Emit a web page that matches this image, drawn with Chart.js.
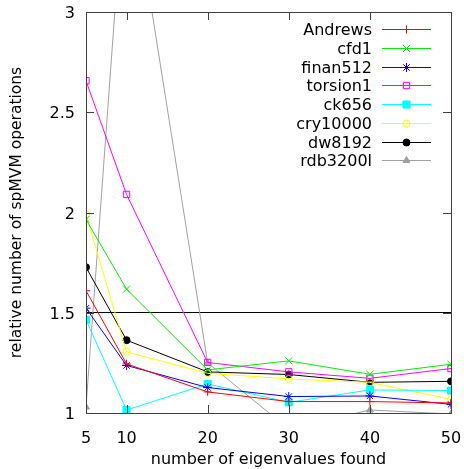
<!DOCTYPE html>
<html>
<head>
<meta charset="utf-8">
<script src="https://cdn.jsdelivr.net/npm/chart.js@4/dist/chart.umd.min.js"></script>
<style>
  html, body { margin: 0; padding: 0; background: #fff; }
  #wrap { width: 464px; height: 469px; }
</style>
</head>
<body>
<div id="wrap"><canvas id="chart" width="464" height="469"></canvas></div>
<script>
// valeurs
const eigenCounts = [5, 10, 20, 30, 40, 50];
const yTicks = [1, 1.5, 2, 2.5, 3];

const andrews  = [1.61, 1.245, 1.105, 1.057, 1.057, 1.05];
const cfd1     = [1.965, 1.618, 1.215, 1.26, 1.193, 1.243];
const finan512 = [1.523, 1.237, 1.127, 1.082, 1.085, 1.043];
const torsion1 = [2.657, 2.09, 1.252, 1.205, 1.173, 1.222];
const ck656    = [1.465, 1.015, 1.145, 1.053, 1.115, 1.112];
const cry10000 = [1.99, 1.305, 1.198, 1.17, 1.153, 1.068];
const dw8192   = [1.727, 1.363, 1.205, 1.192, 1.153, 1.158];
const rdb3200l = [1.03, 3.8, 1.25, 0.92, 1.015, 0.995];

const seriesNames = ['Andrews', 'cfd1', 'finan512', 'torsion1', 'ck656', 'cry10000', 'dw8192', 'rdb3200l'];
const seriesValues = [andrews, cfd1, finan512, torsion1, ck656, cry10000, dw8192, rdb3200l];

const FONT = 'DejaVu Sans';
const FONT_SIZE = 16;
Chart.defaults.font.family = FONT;
Chart.defaults.color = '#000';

// style gnuplot : couleur, symbole, remplissage
const styles = [
    { color: '#ff0000', point: 'cross',    radius: 4,   fill: false },
    { color: '#00ee00', point: 'crossRot', radius: 5,   fill: false },
    { color: '#0000ff', point: 'star',     radius: 4.5, fill: false },
    { color: '#ff00ff', point: 'rect',     radius: 4.5, fill: false },
    { color: '#00ffff', point: 'rect',     radius: 5,   fill: true },
    { color: '#ffff00', point: 'circle',   radius: 3.5, fill: false },
    { color: '#000000', point: 'circle',   radius: 3.5, fill: true },
    { color: '#a0a0a0', point: 'triangle', radius: 4,   fill: true }
];

const datasets = seriesNames.map((name, i) => ({
    label: name,
    data: eigenCounts.map((x, j) => ({ x: x, y: seriesValues[i][j] })),
    borderColor: styles[i].color,
    backgroundColor: styles[i].fill ? styles[i].color : 'rgba(0,0,0,0)',
    pointBackgroundColor: styles[i].fill ? styles[i].color : 'rgba(0,0,0,0)',
    pointBorderColor: styles[i].color,
    pointStyle: styles[i].point,
    pointRadius: styles[i].radius,
    pointBorderWidth: 1,
    borderWidth: 1,
    tension: 0
}));

// cadre, graduations vers l'intérieur et légende façon gnuplot
const gnuplotFrame = {
    id: 'gnuplotFrame',
    afterDatasetsDraw(chart) {
        const { ctx, chartArea: a, scales } = chart;
        ctx.save();
        ctx.strokeStyle = '#404040';
        ctx.lineWidth = 1;
        ctx.beginPath();
        eigenCounts.forEach(v => {
            const px = Math.round(scales.x.getPixelForValue(v)) + 0.5;
            ctx.moveTo(px, a.bottom); ctx.lineTo(px, a.bottom - 8);
            ctx.moveTo(px, a.top); ctx.lineTo(px, a.top + 8);
        });
        yTicks.forEach(v => {
            const py = Math.round(scales.y.getPixelForValue(v)) + 0.5;
            ctx.moveTo(a.left, py); ctx.lineTo(a.left + 8, py);
            ctx.moveTo(a.right, py); ctx.lineTo(a.right - 8, py);
        });
        ctx.stroke();
        ctx.strokeRect(Math.round(a.left) + 0.5, Math.round(a.top) + 0.5,
                       Math.round(a.right - a.left), Math.round(a.bottom - a.top));

        // légende
        ctx.font = FONT_SIZE + 'px "' + FONT + '"';
        ctx.textAlign = 'right';
        ctx.textBaseline = 'middle';
        chart.data.datasets.forEach((ds, i) => {
            const y = Math.round(29.3 + i * 18.7) + 0.5;
            ctx.fillStyle = '#000';
            ctx.fillText(ds.label, 372, y + 1);
            ctx.strokeStyle = ds.borderColor;
            ctx.beginPath();
            ctx.moveTo(382, y); ctx.lineTo(431, y);
            ctx.stroke();
            ctx.fillStyle = ds.pointBackgroundColor;
            Chart.helpers.drawPoint(ctx, {
                pointStyle: ds.pointStyle,
                radius: ds.pointRadius,
                borderWidth: 1,
                rotation: 0
            }, 406.5, y);
        });
        ctx.restore();
    }
};

new Chart(document.getElementById('chart'), {
    type: 'line',
    data: { datasets: datasets },
    options: {
        responsive: false,
        animation: false,
        events: [],
        layout: { padding: { left: 0, top: 12, right: 13, bottom: 0 } },
        plugins: {
            legend: { display: false },
            tooltip: { enabled: false }
        },
        scales: {
            x: {
                type: 'linear',
                min: 5,
                max: 50,
                afterBuildTicks: (scale) => { scale.ticks = eigenCounts.map(v => ({ value: v })); },
                afterFit: (scale) => {
                    scale.height = 56;
                    scale.paddingLeft = 0;
                    scale.paddingRight = 0;
                },
                grid: { display: false, drawTicks: false },
                border: { display: false },
                ticks: { font: { size: FONT_SIZE }, padding: 16, maxRotation: 0, autoSkip: false },
                title: {
                    display: true,
                    text: 'number of eigenvalues found',
                    font: { size: FONT_SIZE },
                    padding: { top: 0, bottom: 0 }
                }
            },
            y: {
                type: 'linear',
                min: 1,
                max: 3,
                afterBuildTicks: (scale) => { scale.ticks = yTicks.map(v => ({ value: v })); },
                afterFit: (scale) => {
                    scale.width = 86;
                    scale.paddingTop = 0;
                    scale.paddingBottom = 0;
                },
                grid: {
                    drawTicks: false,
                    color: (c) => (c.tick && c.tick.value === 1.5 ? '#000' : 'rgba(0,0,0,0)'),
                    lineWidth: 1
                },
                border: { display: false },
                ticks: {
                    font: { size: FONT_SIZE },
                    padding: 11,
                    labelOffset: 2,
                    callback: (v) => String(v)
                },
                title: {
                    display: true,
                    text: 'relative number of spMVM operations',
                    font: { size: 15.5 },
                    padding: { top: 8, bottom: 0 }
                }
            }
        }
    },
    plugins: [gnuplotFrame]
});
</script>
</body>
</html>
